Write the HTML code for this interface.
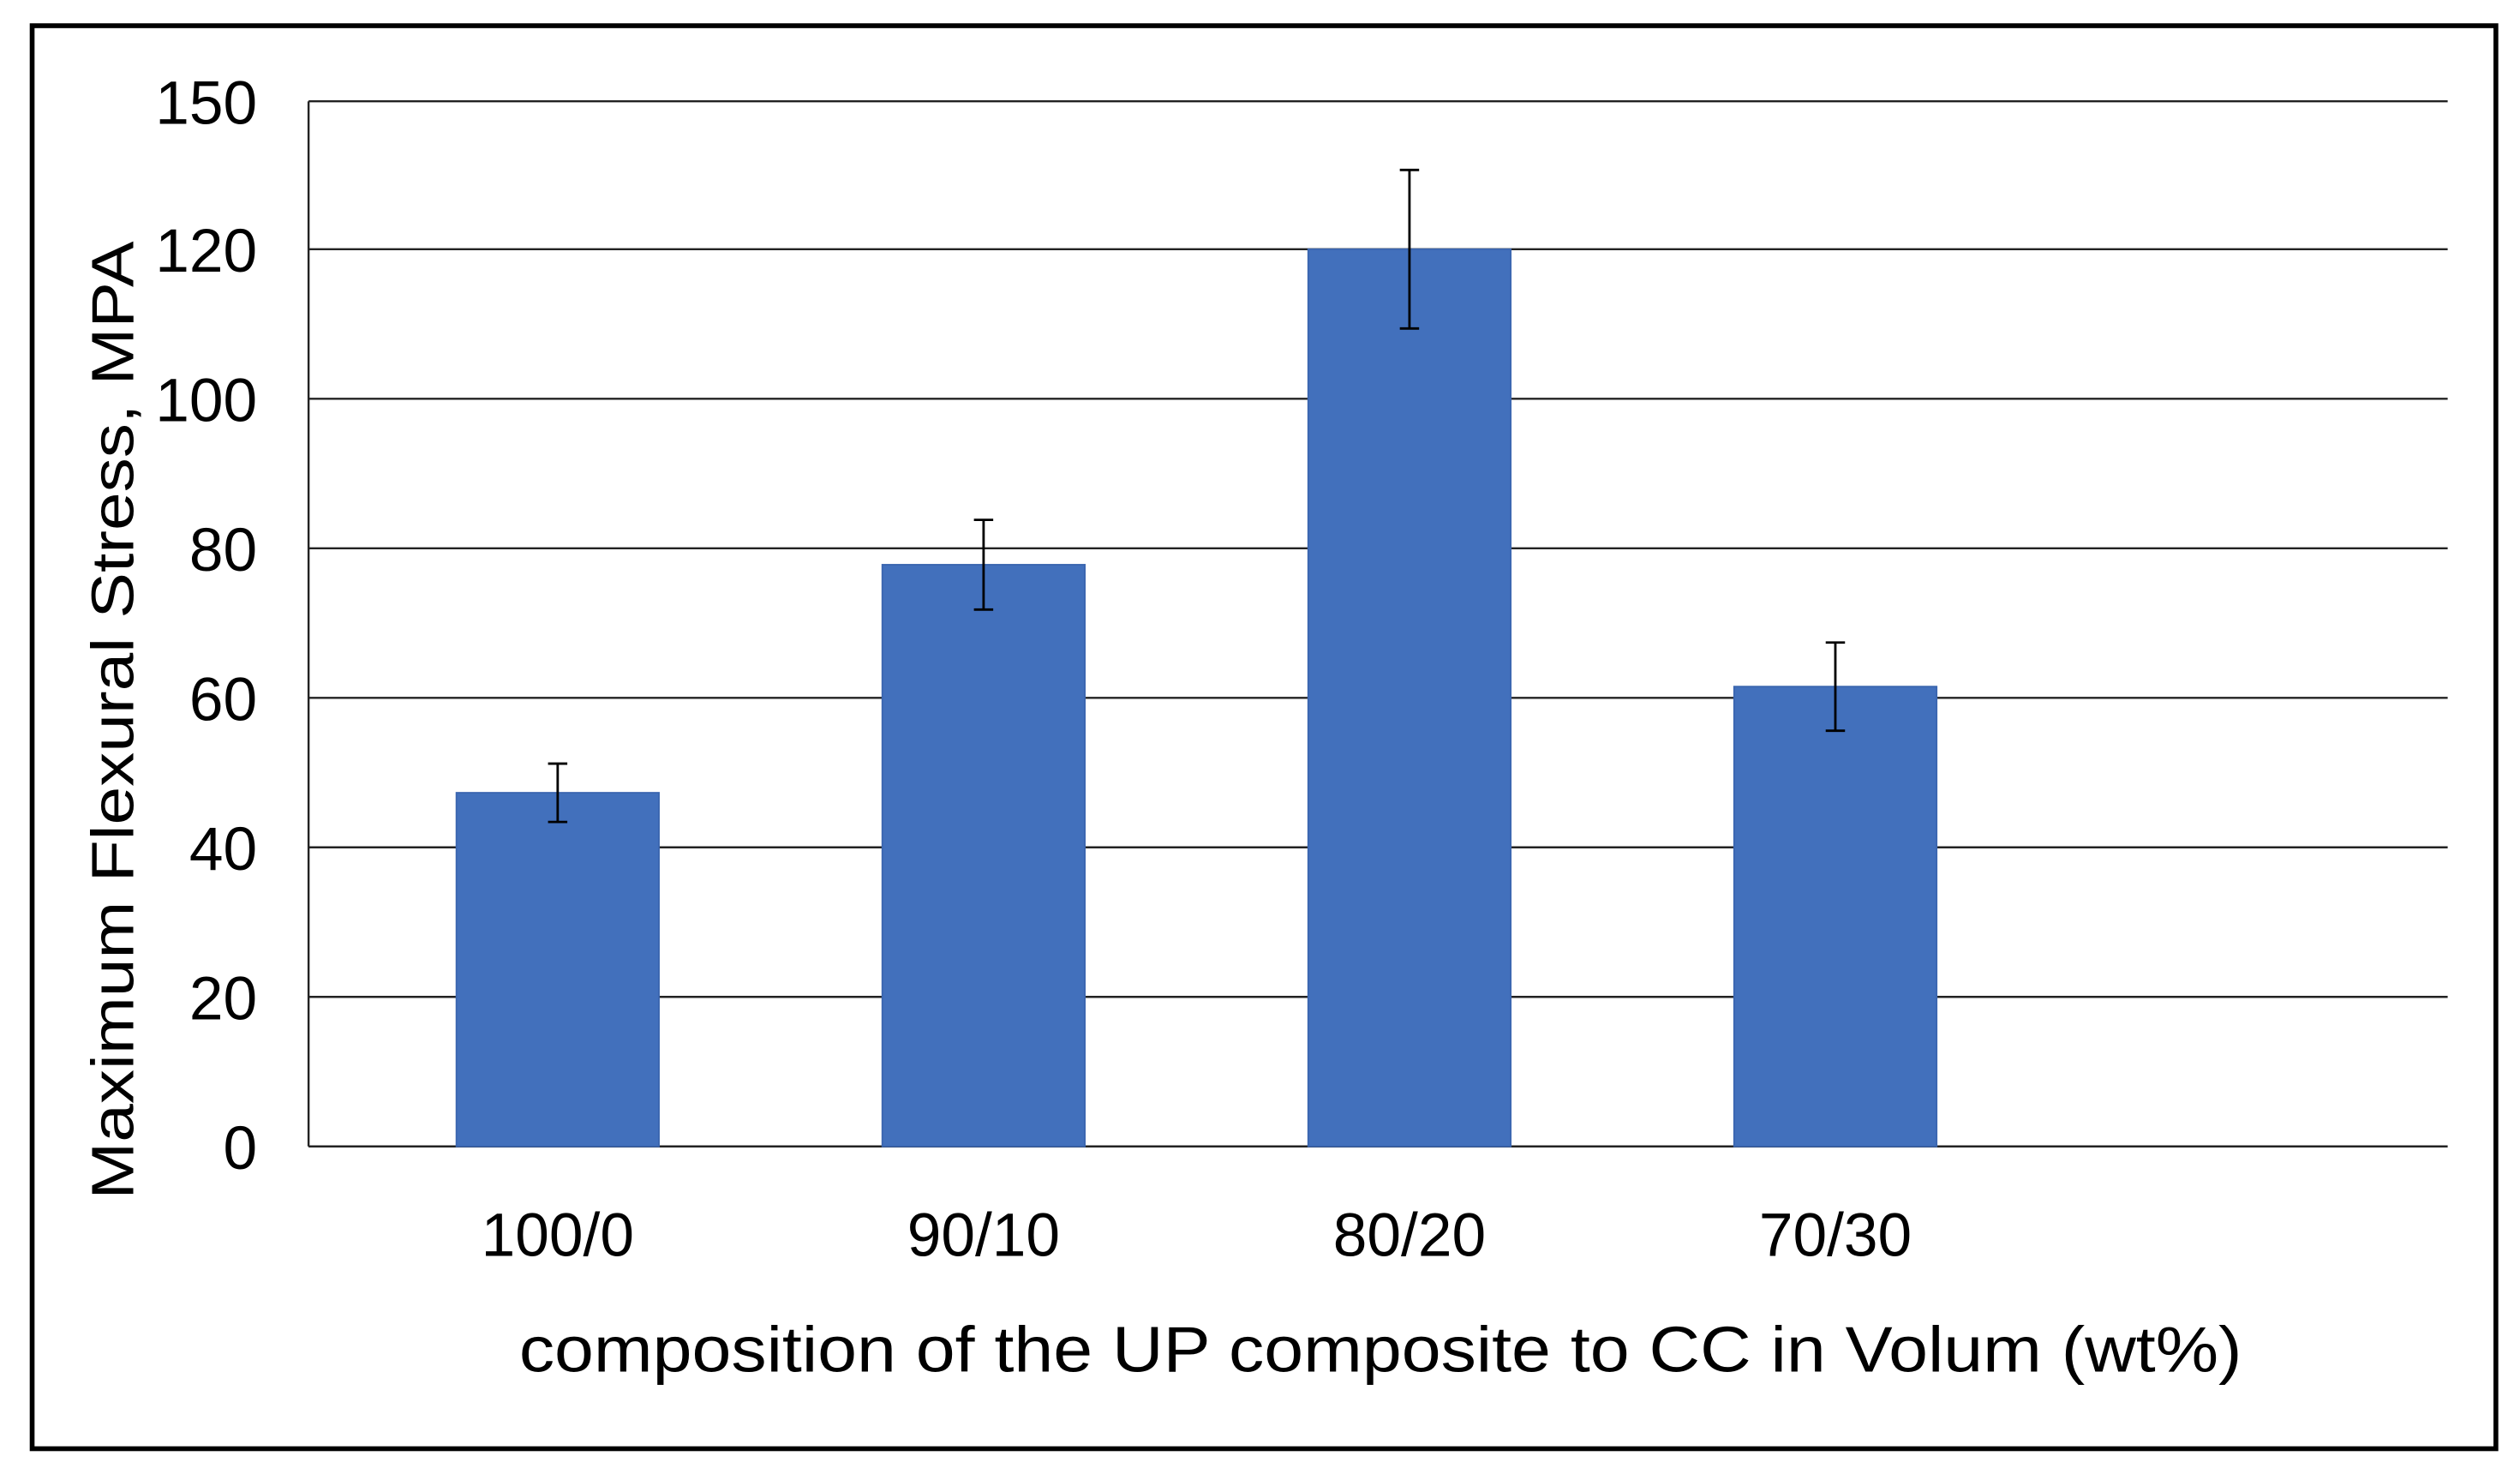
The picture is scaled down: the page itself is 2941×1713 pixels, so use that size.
<!DOCTYPE html>
<html><head><meta charset="utf-8"><style>
html,body{margin:0;padding:0;background:#fff}
svg{display:block}
text{font-family:"Liberation Sans",sans-serif;fill:#000}
</style></head><body>
<svg id="chart" width="2941" height="1713" viewBox="0 0 1568 913" preserveAspectRatio="none" xmlns="http://www.w3.org/2000/svg">
<rect x="20" y="16" width="1533" height="885" fill="#fff" stroke="#000" stroke-width="3"/>
<g id="grid"></g>
<g id="bars"></g>
<g id="yticks"></g>
<g id="xticks"></g>
<text transform="translate(83,448) rotate(-90)" text-anchor="middle" font-size="37" textLength="596" lengthAdjust="spacingAndGlyphs">Maximum Flexural Stress, MPA</text>
<text x="859" y="853" text-anchor="middle" font-size="40" textLength="1072" lengthAdjust="spacingAndGlyphs">composition of the UP composite to CC in Volum (wt%)</text>
</svg>
<script>
const categories = ["100/0","90/10","80/20","70/30"];
const values = [47.3, 77.8, 120.0, 61.5];
const errors = [3.9, 6.0, 10.6, 5.9];
const yTicks = [0, 20, 40, 60, 80, 100, 120];
const topTickLabel = "150";

const NS = "http://www.w3.org/2000/svg";
const plotL = 192, plotR = 1523, plotT = 63, y0 = 713, pxPerUnit = 4.65;
const y = v => y0 - v * pxPerUnit;
const x = i => 347 + i * 265;
const barW = 126;
function mk(tag, attrs, parent){const e=document.createElementNS(NS,tag);for(const k in attrs)e.setAttribute(k,attrs[k]);parent.appendChild(e);return e;}
const grid=document.getElementById('grid'), bars=document.getElementById('bars'), yt=document.getElementById('yticks'), xt=document.getElementById('xticks');

const topLine = mk('line',{x1:plotL,x2:plotR,y1:plotT,y2:plotT,stroke:'#222','stroke-width':1.3},grid);


const tl = mk('text',{x:160,y:plotT+14,'text-anchor':'end','font-size':38},yt);
tl.textContent = topTickLabel;


const axLine = mk('line',{x1:plotL,x2:plotL,y1:plotT,y2:y0,stroke:'#222','stroke-width':1.3},grid);



yTicks.forEach(v=>{
  const g = mk('line',{x1:plotL,x2:plotR,y1:y(v),y2:y(v),stroke:'#222','stroke-width':1.3},grid);
  
  
  const t = mk('text',{x:160,y:y(v)+14,'text-anchor':'end','font-size':38},yt);
  t.textContent = v;
  
  
});

categories.forEach((c,i)=>{
  const cx = x(i);
  const b = mk('rect',{x:cx-barW/2,y:y(values[i]),width:barW,height:y0-y(values[i]),fill:'#4270BC',stroke:'#3b66b0','stroke-width':1},bars);
  
  
  const hi = y(values[i]+errors[i]), lo = y(values[i]-errors[i]);
  const e = mk('path',{d:`M${cx},${hi}V${lo}M${cx-6},${hi}H${cx+6}M${cx-6},${lo}H${cx+6}`,stroke:'#000','stroke-width':1.5,fill:'none'},bars);
  
  
  const t = mk('text',{x:cx,y:781,'text-anchor':'middle','font-size':38},xt);
  t.textContent = c;
  
  
});
</script>
</body></html>
